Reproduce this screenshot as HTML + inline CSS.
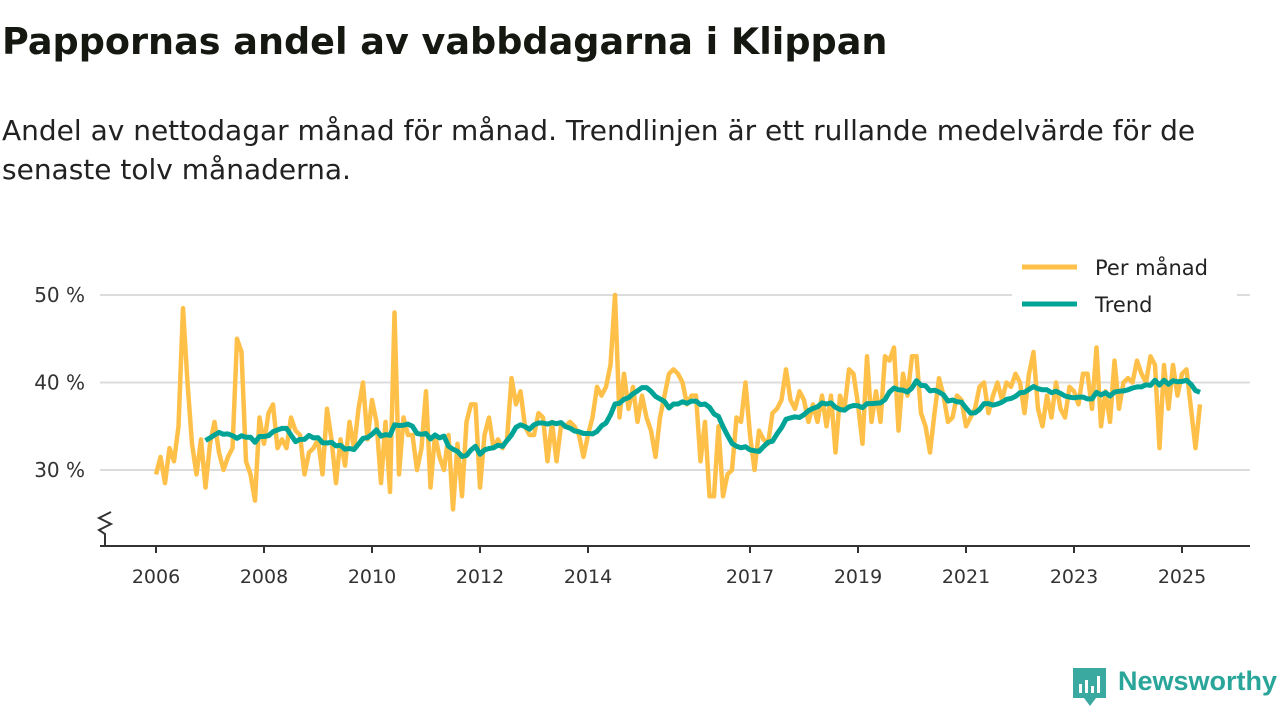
<!DOCTYPE html>
<html><head><meta charset="utf-8"><style>
body{margin:0;width:1280px;height:720px;background:#fff;font-family:"DejaVu Sans","Liberation Sans",sans-serif;overflow:hidden;position:relative;color:#222}
h1{position:absolute;left:2px;top:20px;margin:0;font-size:36.6px;font-weight:bold;color:#141810}
.sub{position:absolute;left:2px;top:111px;margin:0;font-size:28px;line-height:39px;color:#222;width:1250px}
svg{position:absolute;left:0;top:0}
.logo{position:absolute;left:1118px;top:666px;font-size:27px;font-weight:bold;color:#2aa59a;font-family:"Liberation Sans",sans-serif}
</style></head><body>
<h1>Pappornas andel av vabbdagarna i Klippan</h1>
<p class="sub">Andel av nettodagar månad för månad. Trendlinjen är ett rullande medelvärde för de senaste tolv månaderna.</p>
<svg width="1280" height="720">
<g id="grid"></g>
<g id="axis"></g>
<g id="series"></g>
<g id="legend">
<rect x="1012" y="245" width="225" height="80" fill="#fff"/>
<line x1="1022" y1="267" x2="1077" y2="267" stroke="#ffc04a" stroke-width="5"/>
<text x="1095" y="275" font-size="21" fill="#222" font-family="DejaVu Sans, sans-serif">Per månad</text>
<line x1="1022" y1="304" x2="1077" y2="304" stroke="#00a496" stroke-width="5"/>
<text x="1095" y="312" font-size="21" fill="#222" font-family="DejaVu Sans, sans-serif">Trend</text>
</g>
<g>
<path d="M1073 668 h33 v30 h-10 l-6 8 l-6 -8 h-11 z" fill="#3aa99f"/>
<rect x="1079" y="684" width="3" height="9" fill="#fff"/><rect x="1085" y="680" width="3" height="13" fill="#fff"/><rect x="1091" y="686" width="3" height="7" fill="#fff"/><rect x="1097" y="676" width="3" height="17" fill="#fff"/>
</g>
</svg>
<div class="logo">Newsworthy</div>
<script>
const startYear = 2006;
const monthly = [
29.5,31.5,28.5,32.5,31,35,48.5,40,33,29.5,33.5,28,
33,35.5,32,30,31.5,32.5,45,43.5,31,29.5,26.5,36,
33,36.5,37.5,32.5,33.5,32.5,36,34.5,34,29.5,32,32.5,
33.5,29.5,37,33.5,28.5,33.5,30.5,35.5,32.5,37,40,33.5,
38,35.5,28.5,35.5,27.5,48,29.5,36,34,34,30,32.5,
39,28,34,31.5,30,34,25.5,33,27,35.5,37.5,37.5,
28,34,36,32.5,33.5,32.5,33.5,40.5,37.5,39,35,34,
34,36.5,36,31,35.5,31,35,35,35.5,35,34,31.5,
34,36,39.5,38.5,39.5,42,50,36,41,37,39.5,35.5,
38.5,36,34.5,31.5,36,38.5,41,41.5,41,40,37.5,38.5,
38.5,31,35.5,27,27,35,27,29.5,30,36,35.5,40,
34,30,34.5,33.5,33,36.5,37,38,41.5,38,37,39,
38,35.5,37.5,35.5,38.5,35,38.5,32,38.5,37,41.5,41,
37.5,33,43,35.5,39,35.5,43,42.5,44,34.5,41,38.5,
43,43,36.5,35,32,36.5,40.5,38.5,35.5,36,38.5,38,
35,36,37,39.5,40,36.5,38.5,40,38,40,39.5,41,
40,36.5,41,43.5,37,35,38.5,36,40,37,36,39.5,
39,37.5,41,41,37,44,35,39,35.5,42.5,37,40,
40.5,40,42.5,41,40,43,42,32.5,42,37,42,38.5,
41,41.5,37,32.5,37.5];
const xTickYears = [2006,2008,2010,2012,2014,2017,2019,2021,2023,2025];
const yTicks = [30,40,50];
const yTickLabels = ["30 %","40 %","50 %"];
const trendWindow = 12;

const NS="http://www.w3.org/2000/svg";
function xs(t){return 156+(t-2006)*54;}
function ys(v){return 470-(v-30)*8.75;}
function mk(tag,attrs,parent){const e=document.createElementNS(NS,tag);for(const k in attrs)e.setAttribute(k,attrs[k]);parent.appendChild(e);return e;}
const grid=document.getElementById('grid'),axis=document.getElementById('axis'),series=document.getElementById('series');
yTicks.forEach((v,i)=>{
  const l=mk('line',{x1:100,x2:1250,y1:ys(v),y2:ys(v),stroke:'#dcdcdc','stroke-width':2},grid);
  
  
  const t=mk('text',{x:85,y:ys(v)+7,'text-anchor':'end','font-size':20,fill:'#333','font-family':'DejaVu Sans, sans-serif'},grid);
  t.textContent=yTickLabels[i];
  
  
});
const base=mk('line',{x1:100,x2:1250,y1:546,y2:546,stroke:'#333','stroke-width':2},axis);


const br=mk('path',{d:'M105 545 L105 534 L99 530 L111 524 L99 518 L111 512',fill:'none',stroke:'#333','stroke-width':2},axis);


xTickYears.forEach(y=>{
  const tk=mk('line',{x1:xs(y),x2:xs(y),y1:546,y2:553,stroke:'#333','stroke-width':2},axis);
  
  
  const t=mk('text',{x:xs(y),y:583,'text-anchor':'middle','font-size':19,fill:'#333','font-family':'DejaVu Sans, sans-serif'},axis);
  t.textContent=y;
  
  
});
let pts=monthly.map((v,i)=>xs(startYear+i/12).toFixed(1)+','+ys(v).toFixed(1));
const ml=mk('polyline',{points:pts.join(' '),fill:'none',stroke:'#ffc04a','stroke-width':4.5,'stroke-linejoin':'round'},series);


let tp=[];
for(let i=trendWindow-1;i<monthly.length;i++){let s=0;for(let j=i-trendWindow+1;j<=i;j++)s+=monthly[j];tp.push(xs(startYear+i/12).toFixed(1)+','+ys(s/trendWindow).toFixed(1));}
const tl=mk('polyline',{points:tp.join(' '),fill:'none',stroke:'#00a496','stroke-width':5,'stroke-linejoin':'round'},series);


</script>
</body></html>
